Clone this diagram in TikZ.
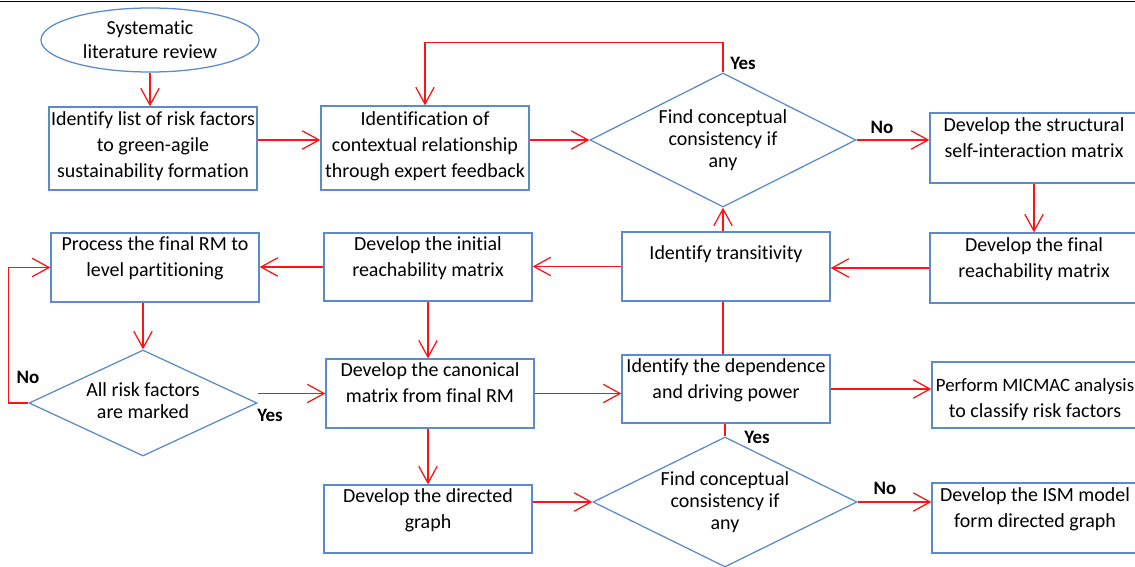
\documentclass[tikz,border=0pt]{standalone}
\usepackage{fontspec}
\setmainfont{Carlito}[Ligatures=NoCommon]
\usetikzlibrary{arrows.meta,positioning,shapes.geometric,calc}
\definecolor{boxb}{RGB}{91,139,200}
\definecolor{arrr}{RGB}{250,20,20}

\begin{document}
\begin{tikzpicture}[x=0.025cm, y=-0.025cm,
  box/.style={draw=boxb, line width=0.9pt, minimum width=5.2cm, minimum height=1.72cm, align=center, inner xsep=0pt, inner ysep=2pt, font=\fontsize{14.2}{18.5}\selectfont, text depth=15pt},
  ell/.style={draw=boxb, line width=0.9pt, ellipse, minimum width=5.45cm, minimum height=1.6cm, inner sep=0pt, align=center, font=\fontsize{14.2}{17}\selectfont},
  dia/.style={draw=boxb, line width=0.9pt, diamond, inner sep=0pt},
  txt/.style={align=center, font=\fontsize{14.2}{15.5}\selectfont},
  arr/.style={draw=arrr, line width=0.9pt, -{Straight Barb[length=4.2mm,width=4.6mm]}},
  lin/.style={draw=arrr, line width=0.9pt},
  lbl/.style={font=\bfseries\fontsize{13.5}{15}\selectfont},
]
  \useasboundingbox (0,0) rectangle (1135,566);
  \draw[line width=0.8pt] (0,1.5) -- (1135,1.5);

  % --- top row ---
  \node[ell] (slr) at (150,40) {Systematic\\literature review};
  \node[box, minimum height=2.075cm, text depth=5pt] (idr) at (153,148.5) {Identify list of risk factors\\to green-agile\\sustainability formation};
  \node[box, minimum height=2.1cm, text depth=5pt] (ctx) at (425,148) {Identification of\\contextual relationship\\through expert feedback};
  \node[dia, minimum width=6.65cm, minimum height=3.35cm] (cc1) at (723,140) {};
  \node[txt] (cc1t) at (cc1) {Find conceptual\\consistency if\\any};
  \node[box, minimum width=5.2cm, minimum height=1.75cm] (ssim) at (1034,148) {Develop the structural\\self-interaction matrix};

  % --- middle row ---
  \node[box, minimum height=1.75cm] (frm) at (1034,268) {Develop the final\\reachability matrix};
  \node[box, text depth=20pt] (trn) at (726,266.5) {Identify transitivity};
  \node[box, minimum height=1.7cm] (irm) at (428,267) {Develop the initial\\reachability matrix};
  \node[box] (lvl) at (155,267.5) {Process the final RM to\\level partitioning};

  % --- lower rows ---
  \node[dia, minimum width=5.7cm, minimum height=2.65cm] (mrk) at (143,403) {};
  \node[txt] (mrkt) at (143,401) {All risk factors\\are marked};
  \node[box] (can) at (430,393.5) {Develop the canonical\\matrix from final RM};
  \node[box, minimum height=1.7cm] (dep) at (726,389) {Identify the dependence\\and driving power};
  \node[box, minimum width=5.15cm, text width=5.1cm, align=flush center, minimum height=1.65cm] (mic) at (1035,395) {{\fontsize{13.4}{18.5}\selectfont Perform MICMAC analysis}\\to classify risk factors};
  \node[dia, minimum width=6.6cm, minimum height=3.25cm] (cc2) at (725,502) {};
  \node[txt] (cc2t) at (cc2) {Find conceptual\\consistency if\\any};
  \node[box, minimum height=1.7cm] (dgr) at (428,519) {Develop the directed\\graph};
  \node[box, minimum width=5.15cm, minimum height=1.75cm] (ism) at (1035,518) {Develop the ISM model\\form directed graph};

  % --- connectors ---
  \draw[arr] (slr.south) -- (slr.south |- idr.north);
  \draw[arr] (idr.east |- cc1.west) -- (ctx.west |- cc1.west);
  \draw[arr] (ctx.east |- cc1.west) -- (cc1.west);
  \draw[arr] (cc1.north) -- ++(0,-30) -| (ctx.north);
  \draw[arr] (cc1.east) -- (cc1.east -| ssim.west);
  \draw[arr] (ssim.south) -- (frm.north);
  \draw[arr] (frm.west) -- (frm.west -| trn.east);
  \draw[arr] (cc1.south |- trn.north) -- (cc1.south);
  \draw[arr] (trn.west) -- (trn.west -| irm.east);
  \draw[arr] (irm.west) -- (irm.west -| lvl.east);
  \draw[arr] (mrk.north |- lvl.south) -- (mrk.north);
  \draw[arr] (mrk.west) -- ++(-20,0) |- (lvl.west);
  \draw[arr] (mrk.east |- can.west) -- (can.west);
  \draw[arr] (irm.south) -- (irm.south |- can.north);
  \draw[arr] (can.east) -- (can.east -| dep.west);
  \draw[lin] (cc1.south |- dep.north) -- (cc1.south |- trn.south);
  \draw[arr] (dep.east) -- (dep.east -| mic.west);
  \draw[lin] (cc2.north |- dep.south) -- (cc2.north);
  \draw[arr] (dgr.north |- can.south) -- (dgr.north);
  \draw[arr] (dgr.east |- cc2.west) -- (cc2.west);
  \draw[arr] (cc2.east) -- (cc2.east -| ism.west);

  % --- labels ---
  \node[lbl] (yes1) at (743,63) {Yes};
  \node[lbl] (no1) at (882,127) {No};
  \node[lbl] (no2) at (28,377) {No};
  \node[lbl] (yes2) at (270,415) {Yes};
  \node[lbl] (yes3) at (757,437) {Yes};
  \node[lbl] (no3) at (885,488) {No};
\end{tikzpicture}
\end{document}
